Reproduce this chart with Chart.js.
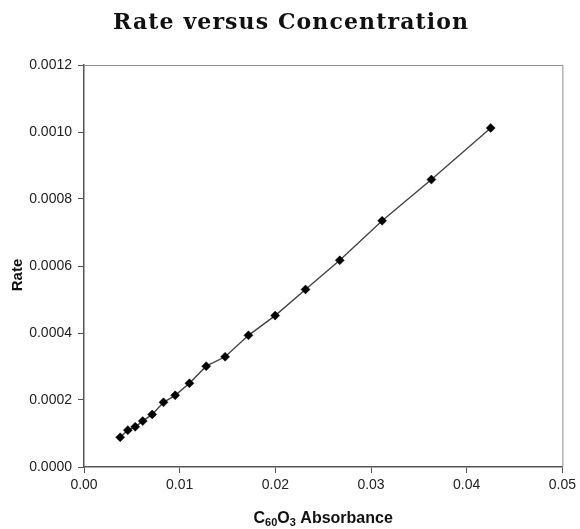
<!DOCTYPE html>
<html>
<head>
<meta charset="utf-8">
<script src="https://cdn.jsdelivr.net/npm/chart.js@4/dist/chart.umd.min.js"></script>
<style>
html,body{margin:0;padding:0;background:#fff;}
#wrap{width:580px;height:529px;position:relative;}
</style>
</head>
<body>
<div id="wrap"><canvas id="c" width="580" height="529"></canvas></div>
<script>
const chartTitle = "Rate versus Concentration";
const xTitleParts = [["C", false], ["60", true], ["O", false], ["3", true], [" Absorbance", false]];
const yTitle = "Rate";
const absorbance = [0.00378, 0.00458, 0.00535, 0.00614, 0.00713, 0.00831, 0.00953, 0.01102, 0.01277, 0.01475, 0.01719, 0.01998, 0.02315, 0.02673, 0.03116, 0.03631, 0.04251];
const rate = [0.0000887, 0.000110, 0.000120, 0.000137, 0.000157, 0.000193, 0.000214, 0.000250, 0.000301, 0.000329, 0.000393, 0.000452, 0.000530, 0.000617, 0.000735, 0.000858, 0.001012];
const xTicks = [0, 0.01, 0.02, 0.03, 0.04, 0.05];
const yTicks = [0, 0.0002, 0.0004, 0.0006, 0.0008, 0.0010, 0.0012];

const points = absorbance.map((x, i) => ({x: x, y: rate[i]}));

const decor = {
  id: 'decor',
  afterDraw(chart) {
    const a = chart.chartArea, ctx = chart.ctx;
    ctx.save();
    // plot frame (top and right)
    ctx.strokeStyle = '#8c8c8c';
    ctx.lineWidth = 1;
    ctx.beginPath();
    ctx.moveTo(a.left, a.top + 0.5);
    ctx.lineTo(a.right + 0.5, a.top + 0.5);
    ctx.lineTo(a.right + 0.5, a.bottom);
    ctx.stroke();

    // main title
    ctx.fillStyle = '#111';
    ctx.font = 'bold 22px "DejaVu Serif"';
    ctx.textBaseline = 'alphabetic';
    ctx.textAlign = 'left';
    ctx.letterSpacing = '0px';
    const w0 = ctx.measureText(chartTitle).width;
    const sp = Math.max(0, (355 - w0) / (chartTitle.length - 1));
    ctx.letterSpacing = sp + 'px';
    const tw = ctx.measureText(chartTitle).width - sp;
    ctx.fillText(chartTitle, 290.5 - tw / 2, 29);
    ctx.letterSpacing = '0px';

    // x axis title with subscripts
    const big = 'bold 16px "Liberation Sans", Arial, sans-serif';
    const small = 'bold 11px "Liberation Sans", Arial, sans-serif';
    let total = 0;
    xTitleParts.forEach(([t, sub]) => { ctx.font = sub ? small : big; total += ctx.measureText(t).width; });
    let x = (a.left + a.right) / 2 - total / 2;
    const base = 523;
    xTitleParts.forEach(([t, sub]) => {
      ctx.font = sub ? small : big;
      ctx.fillText(t, x, sub ? base + 3 : base);
      x += ctx.measureText(t).width;
    });

    // y axis title
    ctx.font = 'bold 15px "Liberation Sans", Arial, sans-serif';
    ctx.translate(17.5, 275);
    ctx.rotate(-Math.PI / 2);
    ctx.textAlign = 'center';
    ctx.textBaseline = 'middle';
    ctx.fillText(yTitle, 0, 0);
    ctx.restore();
  }
};

new Chart(document.getElementById('c'), {
  type: 'scatter',
  data: {
    datasets: [{
      data: points,
      showLine: true,
      borderColor: '#444',
      borderWidth: 1.4,
      pointStyle: 'rectRot',
      pointRadius: 4.5,
      pointBackgroundColor: '#000',
      pointBorderColor: '#000',
      pointBorderWidth: 0.5,
      tension: 0
    }]
  },
  options: {
    responsive: false,
    animation: false,
    layout: {padding: {left: 0, right: 17, top: 65, bottom: 0}},
    plugins: {
      legend: {display: false},
      tooltip: {enabled: false},
      title: {display: false}
    },
    scales: {
      x: {
        type: 'linear',
        min: 0, max: 0.05,
        afterFit: s => { s.height = 62; },
        afterBuildTicks: s => { s.ticks = xTicks.map(v => ({value: v})); },
        ticks: {
          color: '#222',
          font: {family: 'Liberation Sans', size: 14},
          padding: 4,
          callback: v => Number(v).toFixed(2)
        },
        grid: {drawOnChartArea: false, drawTicks: true, tickLength: 6, color: '#555', lineWidth: 1},
        border: {color: '#555', width: 1.5},
        title: {display: false}
      },
      y: {
        type: 'linear',
        min: 0, max: 0.0012,
        afterFit: s => { s.width = 84; },
        afterBuildTicks: s => { s.ticks = yTicks.map(v => ({value: v})); },
        ticks: {
          color: '#222',
          font: {family: 'Liberation Sans', size: 14},
          padding: 6,
          callback: v => Number(v).toFixed(4)
        },
        grid: {drawOnChartArea: false, drawTicks: true, tickLength: 6, color: '#555', lineWidth: 1},
        border: {color: '#555', width: 1.5},
        title: {display: false}
      }
    }
  },
  plugins: [decor]
});
</script>
</body>
</html>
